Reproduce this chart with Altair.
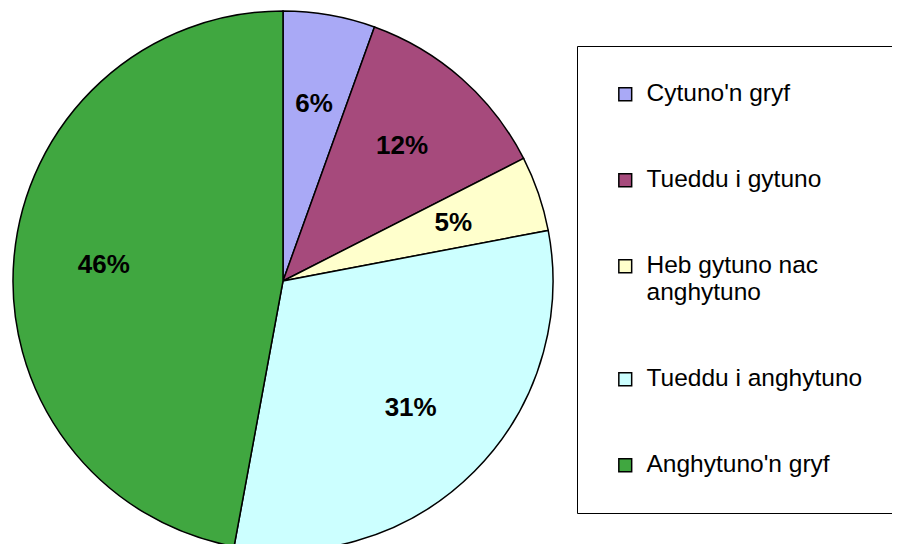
import altair as alt
import pandas as pd

categories = ["Cytuno'n gryf", "Tueddu i gytuno", "Heb gytuno nac anghytuno",
              "Tueddu i anghytuno", "Anghytuno'n gryf"]
shares = [5.5, 12.0, 4.5, 30.9, 47.1]
labels = ["6%", "12%", "5%", "31%", "46%"]
colors = ["#a9a9f6", "#a64a7c", "#ffffcc", "#ccffff", "#40a740"]

df = pd.DataFrame({"cat": categories, "share": shares, "label": labels,
                   "order": list(range(len(categories)))})

CX, CY = 275, 273

base = alt.Chart(df).encode(
    theta=alt.Theta("share:Q", stack=True),
    order=alt.Order("order:Q"),
)

arcs = base.mark_arc(outerRadius=270, stroke="black", strokeWidth=1.5, x=CX, y=CY).encode(
    color=alt.Color(
        "cat:N",
        sort=categories,
        scale=alt.Scale(domain=categories, range=colors),
        legend=alt.Legend(
            orient="none", legendX=569, legendY=38, title=None,
            strokeColor="black", fillColor="white", padding=36,
            rowPadding=61, symbolType="square", symbolSize=165,
            symbolStrokeColor="black", symbolStrokeWidth=1.5,
            labelFont="Liberation Sans", labelFontSize=24.5, labelColor="black",
            labelOffset=9, labelLimit=400,
            labelExpr="datum.label == 'Heb gytuno nac anghytuno' ? ['Heb gytuno nac', 'anghytuno'] : datum.label",
        ),
    )
)

texts = base.mark_text(radius=180, fontSize=26, fontWeight="bold", font="Liberation Sans",
                       color="black", x=CX, y=CY).encode(text="label:N")

chart = alt.layer(arcs, texts).properties(
    width=884, height=536, padding=0,
    autosize=alt.AutoSizeParams(type="none"),
).configure_view(strokeWidth=0)

chart.save("out.html", embed_options={"renderer": "svg", "actions": False})
